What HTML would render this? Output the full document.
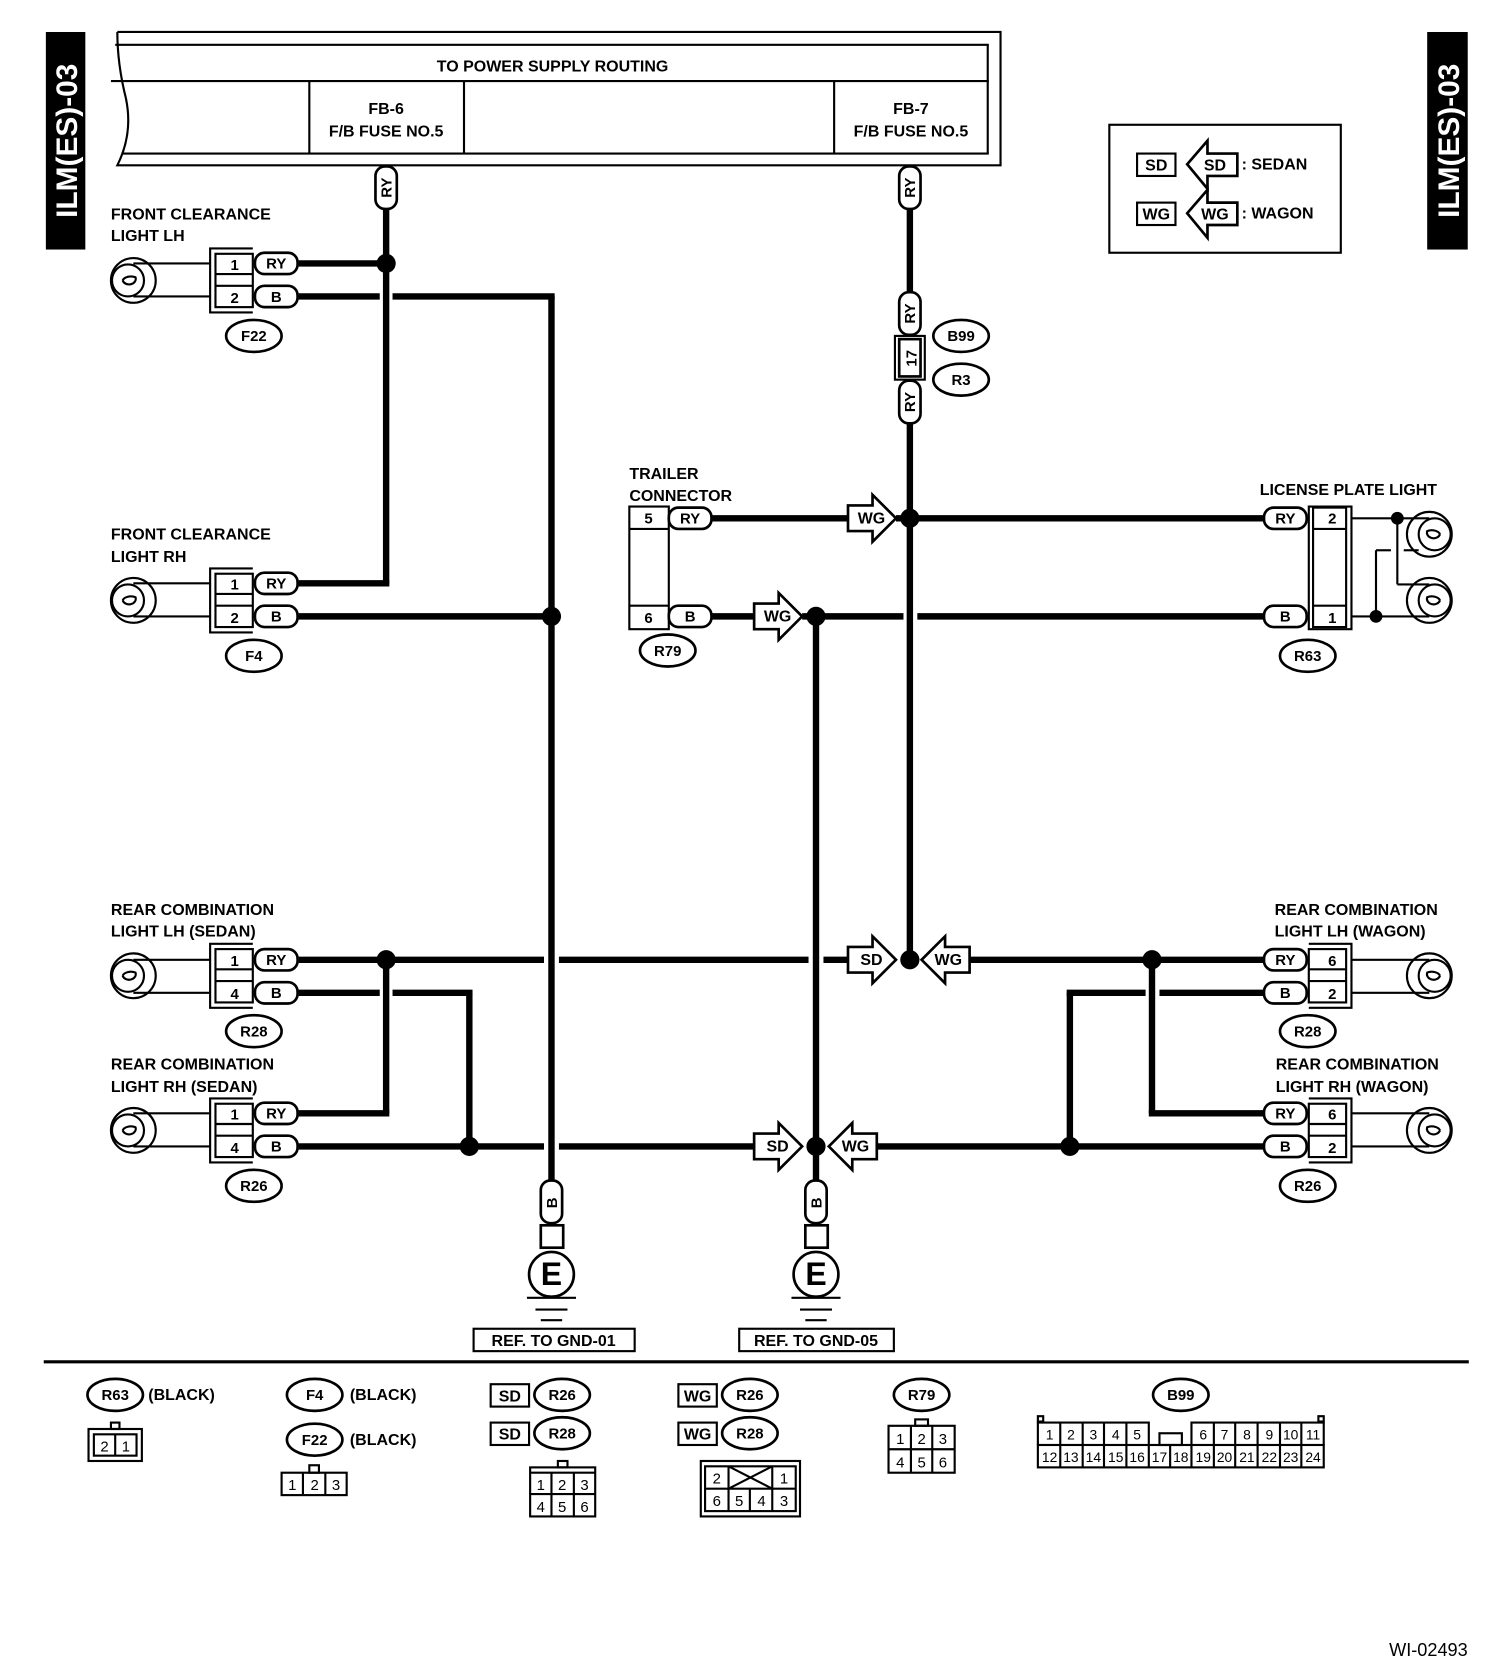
<!DOCTYPE html>
<html><head><meta charset="utf-8"><style>
html,body{margin:0;padding:0;background:#fff}
svg{display:block}
text{font-family:"Liberation Sans",sans-serif;font-weight:bold;fill:#000}
.w{stroke:#000;stroke-width:6;fill:none}
.t{stroke:#000;stroke-width:2;fill:none}
.tb{stroke:#000;stroke-width:2.5;fill:#fff}
.f{font-size:15px}
.s{font-size:14px}
.n{font-weight:normal}
</style></head><body>
<svg width="1504" height="1670" viewBox="0 0 1410 1566" preserveAspectRatio="none" xmlns="http://www.w3.org/2000/svg">
<defs>
<g id="bulb"><circle cx="0" cy="0" r="21" class="t"/><circle cx="-5" cy="0" r="15" class="t"/><path d="M-10,0 a6,5 0 1,0 12,-3 a8,5 0 0,0 -12,3" class="t"/></g>
<g id="bulbR"><circle cx="0" cy="0" r="21" class="t"/><circle cx="5" cy="0" r="15" class="t"/><path d="M10,0 a6,5 0 1,1 -12,-3 a8,5 0 0,1 12,3" class="t"/></g>
<g id="dot"><circle r="9" fill="#000"/></g>
<g id="pillH"><rect x="-20" y="-10" width="40" height="20" rx="9" class="tb"/></g>
<g id="pillV"><rect x="-10" y="-20" width="20" height="40" rx="9" class="tb"/></g>
<g id="oval"><ellipse rx="26" ry="15" class="tb"/></g>
<g id="arrR"><polygon points="-45,-12 -22,-12 -22,-22 0,0 -22,22 -22,12 -45,12" class="tb"/></g>
<g id="arrL"><polygon points="45,-12 22,-12 22,-22 0,0 22,22 22,12 45,12" class="tb"/></g>
<g id="lconn">
<path d="M237,233 L197,233 L197,293 L237,293" class="t" stroke-width="2.5"/>
<rect x="202" y="238" width="35" height="50" class="t"/>
<line x1="202" y1="257" x2="237" y2="257" class="t"/><line x1="202" y1="268" x2="237" y2="268" class="t"/>
</g>
<g id="rconn">
<path d="M1227,233 L1267,233 L1267,293 L1227,293" class="t" stroke-width="2.5"/>
<rect x="1227" y="238" width="35" height="50" class="t"/>
<line x1="1227" y1="257" x2="1262" y2="257" class="t"/><line x1="1227" y1="268" x2="1262" y2="268" class="t"/>
</g>
<g id="gnd">
<use href="#pillV" x="517" y="1127"/>
<rect x="507" y="1149" width="21" height="21" class="tb" stroke-width="2"/>
<circle cx="517" cy="1195" r="21" class="tb"/>
<line x1="494" y1="1217" x2="540" y2="1217" class="t" stroke-width="2.5"/>
<line x1="502" y1="1228" x2="532" y2="1228" class="t" stroke-width="2.5"/>
<line x1="507" y1="1238" x2="527" y2="1238" class="t" stroke-width="2.5"/>
</g>
</defs>

<rect x="43" y="30" width="37" height="204" fill="#000"/>
<text transform="translate(72,132) rotate(-90)" text-anchor="middle" style="font-size:28px;fill:#fff">ILM(ES)-03</text>
<rect x="1338" y="30" width="38" height="204" fill="#000"/>
<text transform="translate(1368,132) rotate(-90)" text-anchor="middle" style="font-size:28px;fill:#fff">ILM(ES)-03</text>

<path d="M110,30 L938,30 L938,155 L110,155 Q125,125 118,92 Q110,60 110,30" class="t" stroke-width="3"/>
<line x1="108" y1="42" x2="927" y2="42" class="t" stroke-width="3"/>
<line x1="104" y1="76" x2="927" y2="76" class="t" stroke-width="3"/>
<line x1="114" y1="144" x2="927" y2="144" class="t" stroke-width="3"/>
<line x1="926" y1="42" x2="926" y2="144" class="t"/>
<line x1="290" y1="76" x2="290" y2="144" class="t"/>
<line x1="435" y1="76" x2="435" y2="144" class="t"/>
<line x1="782" y1="76" x2="782" y2="144" class="t"/>
<text x="518" y="67" text-anchor="middle" class="f">TO POWER SUPPLY ROUTING</text>
<text x="362" y="107" text-anchor="middle" class="f">FB-6</text>
<text x="362" y="128" text-anchor="middle" class="f">F/B FUSE NO.5</text>
<text x="854" y="107" text-anchor="middle" class="f">FB-7</text>
<text x="854" y="128" text-anchor="middle" class="f">F/B FUSE NO.5</text>

<rect x="1040" y="117" width="217" height="120" class="t" stroke-width="2.5"/>
<rect x="1066" y="144" width="36" height="21" class="t" stroke-width="2.5"/><text x="1084" y="160" text-anchor="middle" class="f">SD</text>
<polygon points="1113,154 1132,132 1132,144 1160,144 1160,165 1132,165 1132,177" class="tb"/><text x="1139" y="160" text-anchor="middle" class="f">SD</text>
<text x="1164" y="159" class="f">: SEDAN</text>
<rect x="1066" y="190" width="36" height="21" class="t" stroke-width="2.5"/><text x="1084" y="206" text-anchor="middle" class="f">WG</text>
<polygon points="1113,200 1132,178 1132,190 1160,190 1160,211 1132,211 1132,223" class="tb"/><text x="1139" y="206" text-anchor="middle" class="f">WG</text>
<text x="1164" y="205" class="f">: WAGON</text>

<g class="w">
<line x1="362" y1="196" x2="362" y2="547"/><line x1="280" y1="547" x2="365" y2="547"/>
<line x1="280" y1="247" x2="362" y2="247"/>
<line x1="280" y1="278" x2="356" y2="278"/><line x1="368" y1="278" x2="520" y2="278"/>
<line x1="517" y1="278" x2="517" y2="1107"/>
<line x1="280" y1="578" x2="517" y2="578"/>
<line x1="853" y1="196" x2="853" y2="275"/><line x1="853" y1="398" x2="853" y2="900"/>
<line x1="668" y1="486" x2="795" y2="486"/><line x1="840" y1="486" x2="1185" y2="486"/>
<line x1="668" y1="578" x2="708" y2="578"/><line x1="752" y1="578" x2="847" y2="578"/><line x1="860" y1="578" x2="1185" y2="578"/>
<line x1="765" y1="578" x2="765" y2="1107"/>
<line x1="280" y1="900" x2="510" y2="900"/><line x1="524" y1="900" x2="758" y2="900"/><line x1="772" y1="900" x2="795" y2="900"/><line x1="908" y1="900" x2="1185" y2="900"/>
<line x1="362" y1="900" x2="362" y2="1044"/><line x1="280" y1="1044" x2="365" y2="1044"/>
<line x1="280" y1="931" x2="356" y2="931"/><line x1="368" y1="931" x2="443" y2="931"/><line x1="440" y1="931" x2="440" y2="1075"/>
<line x1="280" y1="1075" x2="510" y2="1075"/><line x1="524" y1="1075" x2="708" y2="1075"/><line x1="822" y1="1075" x2="1185" y2="1075"/>
<line x1="1000" y1="931" x2="1074" y2="931"/><line x1="1087" y1="931" x2="1185" y2="931"/><line x1="1003" y1="931" x2="1003" y2="1075"/>
<line x1="1080" y1="900" x2="1080" y2="1044"/><line x1="1077" y1="1044" x2="1185" y2="1044"/>
</g>
<use href="#dot" x="362" y="247"/><use href="#dot" x="517" y="578"/><use href="#dot" x="853" y="486"/><use href="#dot" x="765" y="578"/>
<use href="#dot" x="362" y="900"/><use href="#dot" x="440" y="1075"/><use href="#dot" x="853" y="900"/><use href="#dot" x="765" y="1075"/>
<use href="#dot" x="1080" y="900"/><use href="#dot" x="1003" y="1075"/>

<use href="#arrR" x="840" y="486"/><text x="817" y="491" text-anchor="middle" class="f">WG</text>
<use href="#arrR" x="752" y="578"/><text x="729" y="583" text-anchor="middle" class="f">WG</text>
<use href="#arrR" x="840" y="900"/><text x="817" y="905" text-anchor="middle" class="f">SD</text>
<use href="#arrL" x="864" y="900"/><text x="889" y="905" text-anchor="middle" class="f">WG</text>
<use href="#arrR" x="752" y="1075"/><text x="729" y="1080" text-anchor="middle" class="f">SD</text>
<use href="#arrL" x="777" y="1075"/><text x="802" y="1080" text-anchor="middle" class="f">WG</text>

<use href="#pillV" x="362" y="176"/><text transform="translate(367,176) rotate(-90)" text-anchor="middle" class="s">RY</text>
<use href="#pillV" x="853" y="176"/><text transform="translate(858,176) rotate(-90)" text-anchor="middle" class="s">RY</text>
<use href="#pillV" x="853" y="294"/><text transform="translate(858,294) rotate(-90)" text-anchor="middle" class="s">RY</text>
<use href="#pillV" x="853" y="377"/><text transform="translate(858,377) rotate(-90)" text-anchor="middle" class="s">RY</text>
<rect x="839" y="315" width="28" height="41" class="t"/><rect x="843" y="318" width="20" height="35" class="tb" stroke-width="2"/>
<text transform="translate(859,336) rotate(-90)" text-anchor="middle" class="s">17</text>
<use href="#oval" x="901" y="315"/><text x="901" y="320" text-anchor="middle" class="s">B99</text>
<use href="#oval" x="901" y="356"/><text x="901" y="361" text-anchor="middle" class="s">R3</text>

<use href="#lconn"/><use href="#lconn" y="300"/><use href="#lconn" y="652"/><use href="#lconn" y="797"/>
<use href="#bulb" x="125" y="263"/><use href="#bulb" x="125" y="563"/><use href="#bulb" x="125" y="915"/><use href="#bulb" x="125" y="1060"/>
<g class="t">
<line x1="125" y1="247" x2="197" y2="247"/><line x1="125" y1="278" x2="197" y2="278"/>
<line x1="125" y1="547" x2="197" y2="547"/><line x1="125" y1="578" x2="197" y2="578"/>
<line x1="125" y1="900" x2="197" y2="900"/><line x1="125" y1="931" x2="197" y2="931"/>
<line x1="125" y1="1044" x2="197" y2="1044"/><line x1="125" y1="1075" x2="197" y2="1075"/>
<line x1="1267" y1="900" x2="1340" y2="900"/><line x1="1267" y1="931" x2="1340" y2="931"/>
<line x1="1267" y1="1044" x2="1340" y2="1044"/><line x1="1267" y1="1075" x2="1340" y2="1075"/>
</g>
<g class="s" text-anchor="middle">
<text x="220" y="253">1</text><text x="220" y="284">2</text>
<text x="220" y="553">1</text><text x="220" y="584">2</text>
<text x="220" y="906">1</text><text x="220" y="937">4</text>
<text x="220" y="1050">1</text><text x="220" y="1081">4</text>
</g>
<use href="#pillH" x="259" y="247"/><use href="#pillH" x="259" y="278"/>
<use href="#pillH" x="259" y="547"/><use href="#pillH" x="259" y="578"/>
<use href="#pillH" x="259" y="900"/><use href="#pillH" x="259" y="931"/>
<use href="#pillH" x="259" y="1044"/><use href="#pillH" x="259" y="1075"/>
<g class="s" text-anchor="middle">
<text x="259" y="252">RY</text><text x="259" y="283">B</text>
<text x="259" y="552">RY</text><text x="259" y="583">B</text>
<text x="259" y="905">RY</text><text x="259" y="936">B</text>
<text x="259" y="1049">RY</text><text x="259" y="1080">B</text>
</g>
<use href="#oval" x="238" y="315"/><text x="238" y="320" text-anchor="middle" class="s">F22</text>
<use href="#oval" x="238" y="615"/><text x="238" y="620" text-anchor="middle" class="s">F4</text>
<use href="#oval" x="238" y="967"/><text x="238" y="972" text-anchor="middle" class="s">R28</text>
<use href="#oval" x="238" y="1112"/><text x="238" y="1117" text-anchor="middle" class="s">R26</text>
<g class="f">
<text x="104" y="206">FRONT CLEARANCE</text><text x="104" y="226">LIGHT LH</text>
<text x="104" y="506">FRONT CLEARANCE</text><text x="104" y="527">LIGHT RH</text>
<text x="104" y="858">REAR COMBINATION</text><text x="104" y="878">LIGHT LH (SEDAN)</text>
<text x="104" y="1003">REAR COMBINATION</text><text x="104" y="1024">LIGHT RH (SEDAN)</text>
<text x="590" y="449">TRAILER</text><text x="590" y="470">CONNECTOR</text>
<text x="1181" y="464">LICENSE PLATE LIGHT</text>
<text x="1195" y="858">REAR COMBINATION</text><text x="1195" y="878">LIGHT LH (WAGON)</text>
<text x="1196" y="1003">REAR COMBINATION</text><text x="1196" y="1024">LIGHT RH (WAGON)</text>
</g>

<rect x="590" y="475" width="37" height="115" class="t" stroke-width="2.5"/>
<line x1="590" y1="496" x2="627" y2="496" class="t"/><line x1="590" y1="568" x2="627" y2="568" class="t"/>
<text x="608" y="491" text-anchor="middle" class="s">5</text><text x="608" y="584" text-anchor="middle" class="s">6</text>
<use href="#pillH" x="647" y="486"/><use href="#pillH" x="647" y="578"/>
<text x="647" y="491" text-anchor="middle" class="s">RY</text><text x="647" y="583" text-anchor="middle" class="s">B</text>
<use href="#oval" x="626" y="610"/><text x="626" y="615" text-anchor="middle" class="s">R79</text>

<use href="#rconn" y="652"/><use href="#rconn" y="797"/>
<path d="M1227,475 L1267,475 L1267,590 L1227,590 Z" class="t" stroke-width="2.5"/>
<rect x="1231" y="476" width="31" height="112" class="t"/>
<line x1="1231" y1="496" x2="1262" y2="496" class="t"/><line x1="1231" y1="568" x2="1262" y2="568" class="t"/>
<g class="s" text-anchor="middle">
<text x="1249" y="491">2</text><text x="1249" y="584">1</text>
<text x="1249" y="906">6</text><text x="1249" y="937">2</text>
<text x="1249" y="1050">6</text><text x="1249" y="1081">2</text>
</g>
<use href="#pillH" x="1205" y="486"/><use href="#pillH" x="1205" y="578"/>
<use href="#pillH" x="1205" y="900"/><use href="#pillH" x="1205" y="931"/>
<use href="#pillH" x="1205" y="1044"/><use href="#pillH" x="1205" y="1075"/>
<g class="s" text-anchor="middle">
<text x="1205" y="491">RY</text><text x="1205" y="583">B</text>
<text x="1205" y="905">RY</text><text x="1205" y="936">B</text>
<text x="1205" y="1049">RY</text><text x="1205" y="1080">B</text>
</g>
<use href="#oval" x="1226" y="615"/><text x="1226" y="620" text-anchor="middle" class="s">R63</text>
<use href="#oval" x="1226" y="967"/><text x="1226" y="972" text-anchor="middle" class="s">R28</text>
<use href="#oval" x="1226" y="1112"/><text x="1226" y="1117" text-anchor="middle" class="s">R26</text>
<use href="#bulbR" x="1340" y="915"/><use href="#bulbR" x="1340" y="1060"/>
<use href="#bulbR" x="1340" y="501"/><use href="#bulbR" x="1340" y="563"/>
<g class="t">
<line x1="1267" y1="486" x2="1340" y2="486"/>
<line x1="1310" y1="486" x2="1310" y2="548"/><line x1="1310" y1="548" x2="1340" y2="548"/>
<line x1="1267" y1="578" x2="1340" y2="578"/>
<line x1="1290" y1="578" x2="1290" y2="516"/><line x1="1290" y1="516" x2="1304" y2="516"/><line x1="1316" y1="516" x2="1330" y2="516"/>
</g>
<circle cx="1310" cy="486" r="6"/><circle cx="1290" cy="578" r="6"/>

<use href="#gnd"/><use href="#gnd" x="248"/>
<text transform="translate(522,1128) rotate(-90)" text-anchor="middle" class="s">B</text>
<text transform="translate(770,1128) rotate(-90)" text-anchor="middle" class="s">B</text>
<text x="517" y="1205" text-anchor="middle" style="font-size:30px">E</text>
<text x="765" y="1205" text-anchor="middle" style="font-size:30px">E</text>
<rect x="444" y="1246" width="151" height="21" class="t"/><text x="519" y="1262" text-anchor="middle" class="f">REF. TO GND-01</text>
<rect x="693" y="1246" width="145" height="21" class="t"/><text x="765" y="1262" text-anchor="middle" class="f">REF. TO GND-05</text>

<line x1="41" y1="1277" x2="1377" y2="1277" stroke="#000" stroke-width="3"/>

<use href="#oval" x="108" y="1308"/><text x="108" y="1313" text-anchor="middle" class="s">R63</text><text x="139" y="1313" class="f">(BLACK)</text>
<rect x="104" y="1334" width="8" height="6" class="t" stroke-width="1.5"/>
<rect x="83" y="1340" width="50" height="30" class="t"/><rect x="88" y="1345" width="40" height="20" class="t" stroke-width="1.5"/>
<line x1="108" y1="1345" x2="108" y2="1365" class="t" stroke-width="1.5"/>
<text x="98" y="1361" text-anchor="middle" class="s n">2</text><text x="118" y="1361" text-anchor="middle" class="s n">1</text>

<use href="#oval" x="295" y="1308"/><text x="295" y="1313" text-anchor="middle" class="s">F4</text><text x="328" y="1313" class="f">(BLACK)</text>
<use href="#oval" x="295" y="1350"/><text x="295" y="1355" text-anchor="middle" class="s">F22</text><text x="328" y="1355" class="f">(BLACK)</text>
<rect x="290" y="1374" width="9" height="7" class="t" stroke-width="1.5"/>
<rect x="264" y="1381" width="61" height="21" class="t"/>
<line x1="284" y1="1381" x2="284" y2="1402" class="t" stroke-width="1.5"/><line x1="305" y1="1381" x2="305" y2="1402" class="t" stroke-width="1.5"/>
<g class="s n" text-anchor="middle"><text x="274" y="1397" class="n">1</text><text x="295" y="1397" class="n">2</text><text x="315" y="1397" class="n">3</text></g>

<rect x="460" y="1298" width="36" height="21" class="t" stroke-width="2.5"/><text x="478" y="1314" text-anchor="middle" class="f">SD</text>
<use href="#oval" x="527" y="1308"/><text x="527" y="1313" text-anchor="middle" class="s">R26</text>
<rect x="460" y="1334" width="36" height="21" class="t" stroke-width="2.5"/><text x="478" y="1350" text-anchor="middle" class="f">SD</text>
<use href="#oval" x="527" y="1344"/><text x="527" y="1349" text-anchor="middle" class="s">R28</text>
<rect x="523" y="1370" width="9" height="6" class="t" stroke-width="1.5"/>
<rect x="497" y="1376" width="61" height="46" class="t"/><line x1="497" y1="1381" x2="558" y2="1381" class="t" stroke-width="1.5"/>
<line x1="497" y1="1401" x2="558" y2="1401" class="t" stroke-width="1.5"/>
<line x1="517" y1="1381" x2="517" y2="1422" class="t" stroke-width="1.5"/><line x1="538" y1="1381" x2="538" y2="1422" class="t" stroke-width="1.5"/>
<g class="s" text-anchor="middle"><text x="507" y="1397" class="n">1</text><text x="527" y="1397" class="n">2</text><text x="548" y="1397" class="n">3</text>
<text x="507" y="1418" class="n">4</text><text x="527" y="1418" class="n">5</text><text x="548" y="1418" class="n">6</text></g>

<rect x="636" y="1298" width="36" height="21" class="t" stroke-width="2.5"/><text x="654" y="1314" text-anchor="middle" class="f">WG</text>
<use href="#oval" x="703" y="1308"/><text x="703" y="1313" text-anchor="middle" class="s">R26</text>
<rect x="636" y="1334" width="36" height="21" class="t" stroke-width="2.5"/><text x="654" y="1350" text-anchor="middle" class="f">WG</text>
<use href="#oval" x="703" y="1344"/><text x="703" y="1349" text-anchor="middle" class="s">R28</text>
<rect x="657" y="1370" width="93" height="52" class="t"/>
<rect x="661" y="1375" width="85" height="42" class="t" stroke-width="1.5"/>
<line x1="661" y1="1396" x2="746" y2="1396" class="t" stroke-width="1.5"/>
<line x1="683" y1="1375" x2="683" y2="1417" class="t" stroke-width="1.5"/><line x1="724" y1="1375" x2="724" y2="1417" class="t" stroke-width="1.5"/>
<line x1="703" y1="1396" x2="703" y2="1417" class="t" stroke-width="1.5"/>
<line x1="683" y1="1375" x2="724" y2="1396" class="t" stroke-width="1.2"/><line x1="724" y1="1375" x2="683" y2="1396" class="t" stroke-width="1.2"/>
<g class="s" text-anchor="middle"><text x="672" y="1391" class="n">2</text><text x="735" y="1391" class="n">1</text>
<text x="672" y="1412" class="n">6</text><text x="693" y="1412" class="n">5</text><text x="714" y="1412" class="n">4</text><text x="735" y="1412" class="n">3</text></g>

<use href="#oval" x="864" y="1308"/><text x="864" y="1313" text-anchor="middle" class="s">R79</text>
<rect x="858" y="1331" width="12" height="6" class="t" stroke-width="1.5"/>
<rect x="833" y="1337" width="62" height="44" class="t"/>
<line x1="833" y1="1359" x2="895" y2="1359" class="t" stroke-width="1.5"/>
<line x1="854" y1="1337" x2="854" y2="1381" class="t" stroke-width="1.5"/><line x1="874" y1="1337" x2="874" y2="1381" class="t" stroke-width="1.5"/>
<g class="s" text-anchor="middle"><text x="844" y="1354" class="n">1</text><text x="864" y="1354" class="n">2</text><text x="884" y="1354" class="n">3</text>
<text x="844" y="1376" class="n">4</text><text x="864" y="1376" class="n">5</text><text x="884" y="1376" class="n">6</text></g>

<use href="#oval" x="1107" y="1308"/><text x="1107" y="1313" text-anchor="middle" class="s">B99</text>
<rect x="973" y="1328" width="5" height="5" class="t" stroke-width="1.2"/><rect x="1236" y="1328" width="5" height="5" class="t" stroke-width="1.2"/>
<path d="M973,1355 L973,1334 L1077,1334 L1077,1355" class="t"/>
<path d="M1117,1355 L1117,1334 L1241,1334 L1241,1355" class="t"/>
<rect x="973" y="1355" width="268" height="21" class="t"/>
<rect x="1087" y="1344" width="21" height="11" class="t" stroke-width="1.2"/>
<g class="t" stroke-width="1.2">
<line x1="994" y1="1334" x2="994" y2="1376"/><line x1="1015" y1="1334" x2="1015" y2="1376"/><line x1="1035" y1="1334" x2="1035" y2="1376"/><line x1="1056" y1="1334" x2="1056" y2="1376"/><line x1="1077" y1="1355" x2="1077" y2="1376"/>
<line x1="1097" y1="1355" x2="1097" y2="1376"/><line x1="1117" y1="1355" x2="1117" y2="1376"/>
<line x1="1138" y1="1334" x2="1138" y2="1376"/><line x1="1158" y1="1334" x2="1158" y2="1376"/><line x1="1179" y1="1334" x2="1179" y2="1376"/><line x1="1200" y1="1334" x2="1200" y2="1376"/><line x1="1220" y1="1334" x2="1220" y2="1376"/>
</g>
<g text-anchor="middle" style="font-size:13px">
<text x="984" y="1350" class="n">1</text><text x="1004" y="1350" class="n">2</text><text x="1025" y="1350" class="n">3</text><text x="1046" y="1350" class="n">4</text><text x="1066" y="1350" class="n">5</text>
<text x="1128" y="1350" class="n">6</text><text x="1148" y="1350" class="n">7</text><text x="1169" y="1350" class="n">8</text><text x="1190" y="1350" class="n">9</text><text x="1210" y="1350" class="n">10</text><text x="1231" y="1350" class="n">11</text>
<text x="984" y="1371" class="n">12</text><text x="1004" y="1371" class="n">13</text><text x="1025" y="1371" class="n">14</text><text x="1046" y="1371" class="n">15</text><text x="1066" y="1371" class="n">16</text><text x="1087" y="1371" class="n">17</text><text x="1107" y="1371" class="n">18</text><text x="1128" y="1371" class="n">19</text><text x="1148" y="1371" class="n">20</text><text x="1169" y="1371" class="n">21</text><text x="1190" y="1371" class="n">22</text><text x="1210" y="1371" class="n">23</text><text x="1231" y="1371" class="n">24</text>
</g>

<text x="1376" y="1553" text-anchor="end" class="n" style="font-size:17px">WI-02493</text>
</svg>
</body></html>
